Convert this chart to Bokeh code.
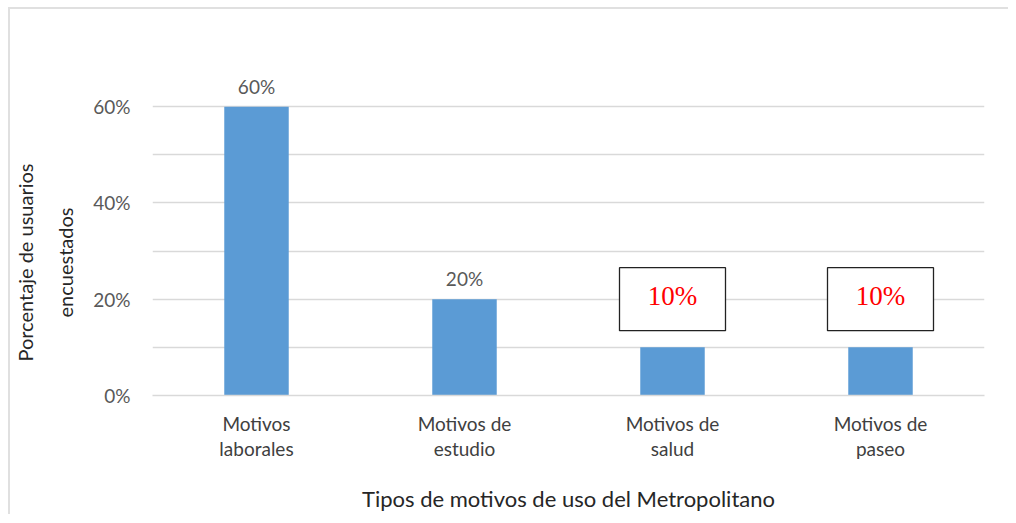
from bokeh.plotting import figure
from bokeh.models import ColumnDataSource, FixedTicker, Range1d, FactorRange, NumeralTickFormatter, Title
from bokeh.core.properties import value
from bokeh.embed import file_html
from bokeh.resources import INLINE

# ---- data ----
categories = ["Motivos\nlaborales", "Motivos de\nestudio", "Motivos de\nsalud", "Motivos de\npaseo"]
percentages = [0.60, 0.20, 0.10, 0.10]
value_labels = ["60%", "20%", "10%", "10%"]
boxed = [False, False, True, True]
y_ticks = [0.0, 0.2, 0.4, 0.6]
grid_ticks = [0.0, 0.1, 0.2, 0.3, 0.4, 0.5, 0.6, 0.7]
x_title = "Tipos de motivos de uso del Metropolitano"
y_title_lines = ["Porcentaje de usuarios", "encuestados"]

FONT = "Lato"
GRAY = "#595959"

p = figure(output_backend="svg", toolbar_location=None,
           x_range=FactorRange(*categories, range_padding=0), y_range=Range1d(0, 0.7),
           min_border_left=142, min_border_right=24, min_border_top=49, min_border_bottom=118,
           frame_width=832, frame_height=337)
p.styles = {"border-top": "2px solid #e0e0e0", "border-left": "2px solid #e0e0e0",
            "margin-left": "8px", "margin-top": "7px"}
p.outline_line_color = None
p.background_fill_color = "white"
p.border_fill_color = "white"

src = ColumnDataSource(dict(x=categories, top=percentages))
p.vbar(x="x", top="top", width=0.31, source=src, fill_color="#5b9bd5", line_color=None)

# plain value labels
plain = [i for i, b in enumerate(boxed) if not b]
lab = ColumnDataSource(dict(x=[categories[i] for i in plain], y=[percentages[i] for i in plain],
                            t=[value_labels[i] for i in plain]))
p.text(x="x", y="y", text="t", source=lab, text_align="center", text_baseline="bottom",
       y_offset=-9, text_font=value(FONT), text_font_size="19px", text_color=GRAY)

# boxed labels
bx = [i for i, b in enumerate(boxed) if b]
bsrc = ColumnDataSource(dict(x=[categories[i] for i in bx], y=[percentages[i] + 0.1 for i in bx],
                             t=[value_labels[i] for i in bx]))
p.rect(x="x", y="y", width=106, height=63, width_units="screen", height_units="screen",
       source=bsrc, fill_color="white", line_color="#222222", line_width=1.3)
p.text(x="x", y="y", text="t", source=bsrc, text_align="center", text_baseline="middle",
       y_offset=-3, text_font=value("Liberation Serif"), text_font_size="27px", text_color="red")

# y title: two lines, placed lower than the frame centre as in the original
t2 = Title(text=y_title_lines[1], align="right", offset=149, standoff=28,
           text_font=FONT, text_font_size="20px", text_font_style="normal", text_color="#262626")
t1 = Title(text=y_title_lines[0], align="right", offset=105, standoff=0,
           text_font=FONT, text_font_size="20px", text_font_style="normal", text_color="#262626")
p.add_layout(t2, "left")
p.add_layout(t1, "left")

# axes
p.yaxis.ticker = FixedTicker(ticks=y_ticks)
p.yaxis.formatter = NumeralTickFormatter(format="0%")
p.yaxis.axis_line_color = None
p.yaxis.major_tick_line_color = None
p.yaxis.minor_tick_line_color = None
p.yaxis.major_label_text_font = FONT
p.yaxis.major_label_text_font_size = "19px"
p.yaxis.major_label_text_color = GRAY
p.yaxis.major_label_standoff = 16

p.xaxis.axis_line_color = "#d9d9d9"
p.xaxis.axis_line_width = 1.5
p.xaxis.major_tick_line_color = None
p.xaxis.minor_tick_line_color = None
p.xaxis.major_label_text_font = FONT
p.xaxis.major_label_text_font_size = "19px"
p.xaxis.major_label_text_line_height = 1.1
p.xaxis.major_label_text_color = "#404040"
p.xaxis.major_label_standoff = 10
p.xaxis.axis_label = x_title
p.xaxis.axis_label_text_font = FONT
p.xaxis.axis_label_text_font_style = "normal"
p.xaxis.axis_label_text_font_size = "22px"
p.xaxis.axis_label_text_color = "#262626"
p.xaxis.axis_label_standoff = 22

p.xgrid.grid_line_color = None
p.ygrid.ticker = FixedTicker(ticks=grid_ticks)
p.ygrid.grid_line_color = "#d9d9d9"
p.ygrid.grid_line_width = 1.5

open("out.html", "w").write(file_html(p, INLINE))
